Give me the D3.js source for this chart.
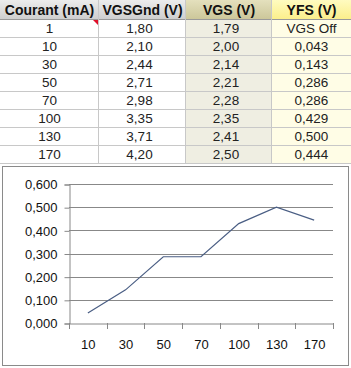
<!DOCTYPE html>
<html><head><meta charset="utf-8">
<script src="https://cdn.jsdelivr.net/npm/d3@7"></script>
<style>
html,body{margin:0;padding:0;background:#fff;}
svg{display:block;font-family:Arial,"Liberation Sans",sans-serif;}
</style></head><body>
<svg id="c" width="351" height="368"></svg>
<script>
// ---- table data ----
const headers = ["Courant (mA)", "VGSGnd (V)", "VGS (V)", "YFS (V)"];
const courant = ["1", "10", "30", "50", "70", "100", "130", "170"];
const vgsgnd = ["1,80", "2,10", "2,44", "2,71", "2,98", "3,35", "3,71", "4,20"];
const vgs = ["1,79", "2,00", "2,14", "2,21", "2,28", "2,35", "2,41", "2,50"];
const yfsText = ["VGS Off", "0,043", "0,143", "0,286", "0,286", "0,429", "0,500", "0,444"];
// ---- chart data ----
const categories = ["10", "30", "50", "70", "100", "130", "170"];
const yfs = [0.043, 0.143, 0.286, 0.286, 0.429, 0.500, 0.444];
const yTicks = [0, 0.1, 0.2, 0.3, 0.4, 0.5, 0.6];

const svg = d3.select("#c");
const defs = svg.append("defs");
function grad(id, c1, c2) {
  const g = defs.append("linearGradient").attr("id", id).attr("x1", 0).attr("y1", 0).attr("x2", 0).attr("y2", 1);
  g.append("stop").attr("offset", "0%").attr("stop-color", c1);
  g.append("stop").attr("offset", "100%").attr("stop-color", c2);
}
grad("gGray", "#ececec", "#cfcfcf");
grad("gKhaki", "#e4e0bd", "#ccc79a");
grad("gYellow", "#fffbc0", "#fbef8c");

// ---- table layout ----
const colX = [0, 99, 186, 272, 351];
const headH = 19, rowH = 18;
const cols = [courant, vgsgnd, vgs, yfsText];
const headFill = ["url(#gGray)", "url(#gGray)", "url(#gKhaki)", "url(#gYellow)"];
const cellFill = ["#ffffff", "#ffffff", "#efeee2", "#fffde6"];
const nRows = courant.length;
const tableBottom = headH + rowH * nRows;

const t = svg.append("g");
cols.forEach((col, ci) => {
  const x0 = colX[ci], w = colX[ci + 1] - colX[ci];
  t.append("rect").attr("x", x0).attr("y", 0).attr("width", w).attr("height", headH).attr("fill", headFill[ci]);
  t.append("rect").attr("x", x0).attr("y", headH).attr("width", w).attr("height", rowH * nRows).attr("fill", cellFill[ci]);
  t.append("text").attr("x", x0 + w / 2).attr("y", 14.5).attr("text-anchor", "middle")
    .attr("font-size", 14).attr("font-weight", "bold").attr("fill", "#111").text(headers[ci]);
  col.forEach((v, ri) => {
    t.append("text").attr("x", x0 + w / 2 - (ci === 1 || ci === 2 ? 3 : 0)).attr("y", headH + rowH * ri + 14)
      .attr("text-anchor", "middle").attr("font-size", 13.5).attr("fill", "#222").text(v);
  });
});
// grid lines
for (let i = 0; i <= nRows; i++) {
  const y = headH + rowH * i + 0.5;
  t.append("line").attr("x1", 0).attr("x2", 351).attr("y1", y).attr("y2", y)
    .attr("stroke", i === 0 ? "#9a9a9a" : "#c8c8c8");
}
for (let i = 1; i < colX.length - 1; i++) {
  t.append("line").attr("x1", colX[i] - 0.5).attr("x2", colX[i] - 0.5).attr("y1", 0).attr("y2", tableBottom)
    .attr("stroke", "#c8c8c8");
}
// comment indicator
t.append("path").attr("d", `M${colX[1] - 6},${headH + 1} L${colX[1] - 1},${headH + 1} L${colX[1] - 1},${headH + 6} Z`).attr("fill", "#e0102a");

// ---- chart ----
svg.append("rect").attr("x", 2.5).attr("y", 166.5).attr("width", 346).attr("height", 199)
  .attr("fill", "#fff").attr("stroke", "#8a8a8a");

const x = d3.scaleBand().domain(categories).range([69, 333]).padding(0);
const y = d3.scaleLinear().domain([0, 0.6]).range([323, 184]);
const fmt = v => d3.format(".3f")(v).replace(".", ",");

// gridlines
svg.append("g").selectAll("line").data(yTicks.filter(d => d > 0)).join("line")
  .attr("x1", 69).attr("x2", 333).attr("y1", d => Math.round(y(d)) + 0.5).attr("y2", d => Math.round(y(d)) + 0.5)
  .attr("stroke", "#888");

// y axis
const yAxis = svg.append("g").attr("transform", "translate(69.5,0.5)")
  .call(d3.axisLeft(y).tickValues(yTicks).tickFormat(fmt).tickSize(5).tickPadding(7));
yAxis.select(".domain").attr("stroke", "#888");
yAxis.selectAll(".tick line").attr("stroke", "#888");
yAxis.selectAll(".tick text").attr("font-size", 13).attr("fill", "#111")
  .attr("font-family", "Arial, 'Liberation Sans', sans-serif");

// x axis
const xAxis = svg.append("g").attr("transform", "translate(0.5,323.5)")
  .call(d3.axisBottom(x).tickSize(0).tickPadding(16));
xAxis.select(".domain").attr("stroke", "#888");
xAxis.selectAll(".tick text").attr("font-size", 13).attr("fill", "#111")
  .attr("font-family", "Arial, 'Liberation Sans', sans-serif");
const bounds = categories.map(c => x(c)).concat([x.range()[1]]);
svg.append("g").selectAll("line").data(bounds).join("line")
  .attr("x1", d => Math.round(d) + 0.5).attr("x2", d => Math.round(d) + 0.5)
  .attr("y1", 323).attr("y2", 329).attr("stroke", "#888");

// line
const line = d3.line().x((d, i) => x(categories[i]) + x.bandwidth() / 2).y(d => y(d));
svg.append("path").datum(yfs).attr("d", line).attr("fill", "none")
  .attr("stroke", "#4a5e84").attr("stroke-width", 1.2);
</script>
</body></html>
